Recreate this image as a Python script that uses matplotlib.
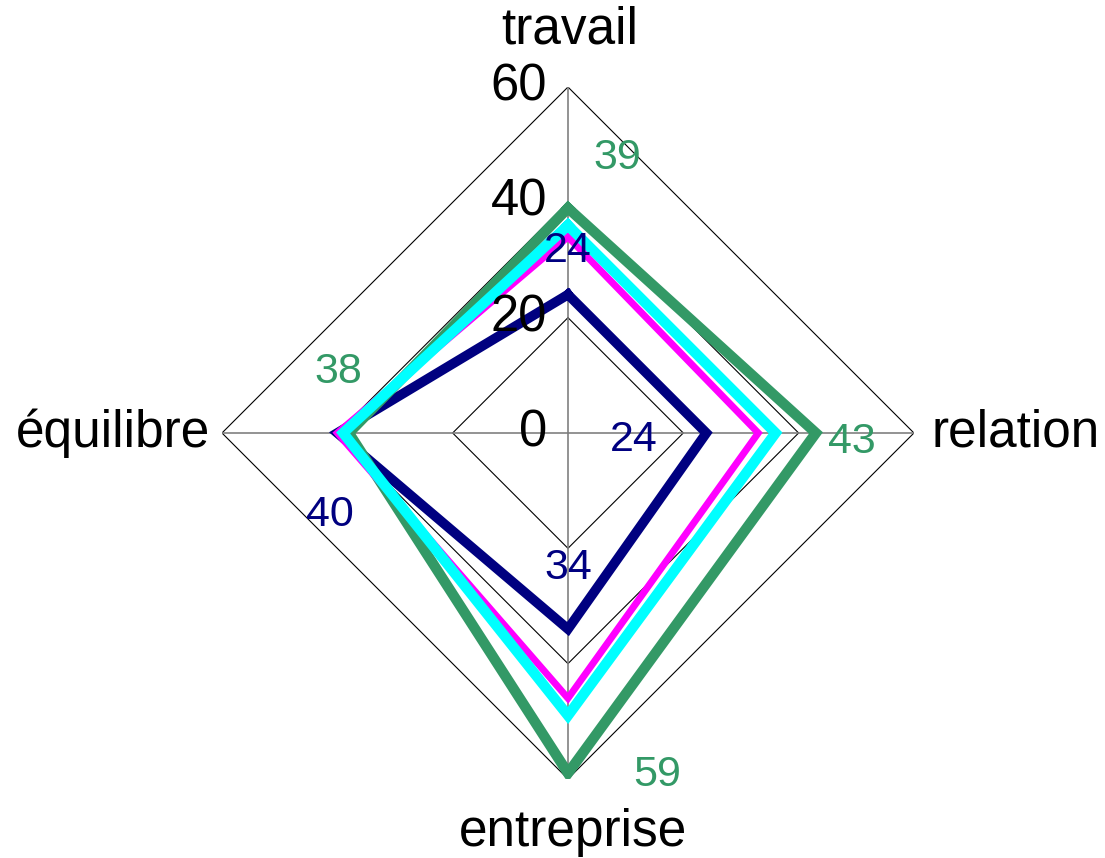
import numpy as np
import matplotlib
matplotlib.use("Agg")
import matplotlib.pyplot as plt

plt.rcParams['font.family'] = ['Liberation Sans', 'DejaVu Sans']

# axes, clockwise from top
categories = ['travail', 'relation', 'entreprise', 'équilibre']
ticks = [0, 20, 40, 60]

# series values (navy, magenta, cyan, green)
navy = [24, 24, 34, 40]
magenta = [34, 33, 46, 40]
cyan = [36, 36, 49, 39]
green = [39, 43, 59, 38]

# drawing order: cyan ends up on top, like the original
series = [(navy, '#000080', 7.0, 2),
          (green, '#339966', 7.5, 3),
          (magenta, '#FF00FF', 5.0, 4),
          (cyan, '#00FFFF', 7.5, 5)]

# label offsets in pixels for the labelled series
navy_off = [(0, 44), (-73, -7), (0, 61), (-7, -82)]
green_off = [(49, 50), (36, -9), (89, -2), (-11, 61)]

angles = np.arange(len(categories)) * np.pi / 2
closed = np.append(angles, angles[0])

fig = plt.figure(figsize=(11.05, 8.58), dpi=100)
ax = fig.add_axes([0.2009, 0.0921, 0.6262, 0.8065], projection='polar')
ax.set_theta_offset(np.pi / 2)
ax.set_theta_direction(-1)
ax.set_ylim(0, 60)
ax.grid(False)
ax.set_xticks([])
ax.set_yticks([])
ax.spines['polar'].set_visible(False)
ax.patch.set_visible(False)

# diamond grid
for r in ticks[1:]:
    ax.plot(closed, [r] * 5, color='black', lw=0.8, zorder=1)
for a in angles:
    ax.plot([a, a], [0, 60], color='#808080', lw=1.2, zorder=1)

for vals, col, lw, z in series:
    ax.plot(closed, vals + vals[:1], color=col, lw=lw,
            solid_joinstyle='miter', zorder=z)

for a, v, off in zip(angles, navy, navy_off):
    ax.annotate(str(v), (a, v), xytext=off, textcoords='offset pixels',
                ha='center', va='center', fontsize=31, color='#000080',
                annotation_clip=False, zorder=7)
for a, v, off in zip(angles, green, green_off):
    ax.annotate(str(v), (a, v), xytext=off, textcoords='offset pixels',
                ha='center', va='center', fontsize=31, color='#339966',
                annotation_clip=False, zorder=7)

# tick labels along the top spoke
for t in ticks:
    ax.annotate(str(t), (0, t), xytext=(-21, 0), textcoords='offset pixels',
                ha='right', va='center', fontsize=36.5, color='black',
                annotation_clip=False, zorder=6)

# category labels
cat_off = [((2, 57), 'center'), ((18, 0), 'left'),
           ((5, -54), 'center'), ((-12, 0), 'right')]
for a, name, (off, ha) in zip(angles, categories, cat_off):
    ax.annotate(name, (a, 60), xytext=off, textcoords='offset pixels',
                ha=ha, va='center', fontsize=37, color='black',
                annotation_clip=False)

fig.savefig('out.png', dpi=100)
